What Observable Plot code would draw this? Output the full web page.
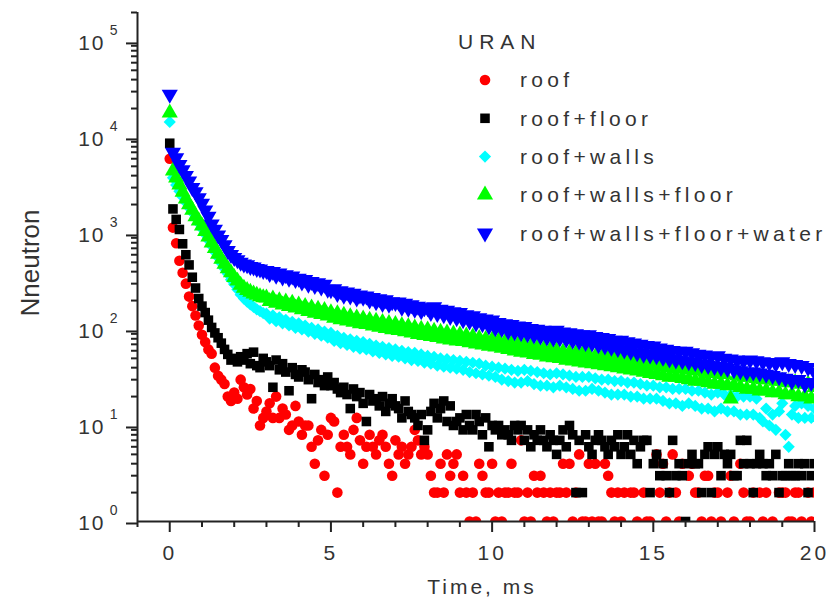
<!DOCTYPE html>
<html><head><meta charset="utf-8">
<script src="https://cdn.jsdelivr.net/npm/d3@7"></script>
<script src="https://cdn.jsdelivr.net/npm/@observablehq/plot@0.6"></script>
<style>
body{margin:0;background:#fff;}
#chart{position:relative;width:839px;height:602px;}
</style></head><body><div id="chart"></div>
<script>
// Time grid: 0 … 20 ms in 0.1 ms bins
const times = d3.range(201).map(i => i / 10);

const roof = [
6000,1150,790,520,390,300,220,175,140,110,
88,74,62,56,40,33,30,27,20,18,
22,19,30,25,21,24,15,18,10,12,
14,17,12,20,12,15,13,9,10,16,
11,8,10,10,6,4,7,9,3,8,
12,11,2,6,8,6,5,9,12,7,
4,6,8,6,5,7,8,6,4,3,
7,5,6,4,5,6,9,7,5,6,
5,3,2,2,4,2,5,3,4,5,
2,3,2,1,2,1,4,3,2,2,
4,1,2,1,2,2,4,2,2,7,
1,2,1,3,2,3,2,1,2,1,
2,2,4,2,4,1,2,5,1,1,
4,1,4,1,1,4,3,2,1,2,
1,2,0,2,2,1,0,2,1,1,
0,5,2,4,1,2,5,2,1,4,
0,3,4,2,2,1,3,3,1,2,
2,1,0,2,3,1,0,4,2,1,
1,2,0,2,1,2,0,1,0,2,
2,2,1,1,2,2,1,0,2,1,
2];

const roofFloor = [
8700,1800,1400,1100,780,600,470,350,270,210,
175,150,125,105,92,82,72,62,55,48,
50,46,52,48,56,44,58,42,40,50,
46,42,25,48,38,44,36,23,40,34,
32,38,36,30,19,34,28,30,26,32,
26,28,24,22,25,21,15,24,20,22,
17,11,21,18,19,16,20,14,17,19,
16,15,12,18,14,13,12,10,13,7,
9,14,17,12,15,18,11,16,10,11,
12,9,13,10,9,13,11,8,12,6,
10,9,10,8,9,8,7,10,9,10,
7,9,6,8,7,9,7,6,8,7,
5,7,9,6,10,8,2,7,2,8,
6,5,7,8,7,6,5,7,6,8,
5,6,8,5,7,4,6,7,7,2,
4,5,3,4,3,2,7,3,4,3,
1,4,5,4,4,2,5,6,2,5,
6,3,5,4,5,3,3,7,4,7,
4,2,4,5,4,3,4,3,5,2,
3,3,4,3,3,4,3,4,2,3,
4];

const roofWalls = [
14500,3800,3200,2750,2400,2100,1850,1650,1450,1280,
1120,980,850,740,640,560,490,430,380,330,
295,260,230,210,195,182,172,162,155,148,
146,130,140,122,134,116,126,110,120,104,
116,100,110,95,104,90,100,86,95,82,
92,76,86,72,82,69,79,66,76,63,
74,62,71,59,68,57,66,55,64,53,
62,52,60,50,58,48,57,47,55,45,
53,44,52,42,50,41,49,40,48,39,
47,38,46,36,45,35,44,34,42,33,
41,32,40,30,39,29,38,28,37,28,
38,29,37,27,36,26,35,26,34,25,
35,26,34,25,33,24,32,23,32,23,
32,24,31,23,30,22,30,21,29,21,
29,21,28,20,28,20,27,19,26,19,
26,19,25,18,25,17,24,17,24,16,
24,17,23,16,23,15,22,15,21,14,
22,15,21,14,21,14,20,13,20,13,
20,13,19,12,11,15,10,13,9,14,
17,8,6,13,16,12,17,12,16,12,
15];

const roofWallsFloor = [
18000,4500,3800,3200,2700,2300,2000,1750,1500,1350,
1200,1050,920,800,700,610,540,480,430,390,
350,320,290,270,255,245,235,228,220,215,
214,196,208,188,200,180,194,174,188,168,
180,161,174,154,168,148,163,144,158,139,
150,131,146,127,141,123,136,119,132,115,
129,113,125,109,122,106,119,103,116,100,
113,98,110,95,107,92,104,89,101,87,
99,85,96,83,94,80,92,78,90,76,
88,75,86,73,84,71,81,69,79,67,
78,66,76,64,74,62,71,60,69,58,
68,57,66,55,64,54,62,52,61,51,
60,50,58,48,57,47,56,46,55,45,
54,44,52,43,51,42,50,41,49,40,
48,39,47,38,46,37,45,36,44,35,
43,34,42,33,41,32,40,32,39,31,
39,30,38,29,37,29,36,28,35,27,
35,27,34,26,19,26,33,25,32,24,
32,24,31,23,30,23,30,22,29,22,
29,21,28,21,28,20,27,20,27,19,
25];

const roofWallsFloorWater = [
28000,7000,6100,5200,4600,4000,3500,3000,2700,2350,
2050,1750,1500,1250,1100,960,860,760,660,600,
560,530,500,480,470,450,445,430,425,410,
410,380,400,365,385,350,370,340,360,330,
340,310,330,295,315,285,305,275,295,262,
258,265,236,252,226,244,222,238,212,228,
216,222,202,214,194,208,186,203,182,194,
190,192,170,187,166,180,162,174,156,168,
168,150,172,146,162,142,158,136,152,132,
150,126,142,122,138,116,132,114,128,108,
125,104,118,102,114,96,112,94,108,92,
107,90,102,87,100,85,98,83,96,81,
98,81,94,79,92,77,90,75,88,73,
88,72,84,69,82,67,80,65,77,63,
77,61,74,59,72,57,70,55,68,54,
67,53,64,51,62,49,60,48,59,47,
59,46,57,45,55,43,54,42,52,41,
53,40,50,39,49,38,48,37,47,36,
48,36,47,35,46,34,45,33,44,32,
46,31,44,29,43,30,42,27,40,28,
36];

const legendTitle = "URAN";
const xMajorTicks = [0, 5, 10, 15, 20];
const xMinorTicks = [-1,1,2,3,4,6,7,8,9,11,12,13,14,16,17,18,19];
const yMajorTicks = [1, 10, 100, 1000, 10000, 100000];
const yMinorTicks = [];
for (const d of [1, 10, 100, 1000, 10000, 100000])
  for (let k = 2; k <= 9; k++) if (k * d <= 200000) yMinorTicks.push(k * d);

const sqrt3 = Math.sqrt(3);
const triangleDown = {
  draw(context, size) {
    const y = Math.sqrt(size / (sqrt3 * 3));
    context.moveTo(0, y * 2);
    context.lineTo(-sqrt3 * y, -y);
    context.lineTo(sqrt3 * y, -y);
    context.closePath();
  }
};

const series = [
  {name: "roof", values: roof, color: "#ff0000", symbol: "circle", r: 5.3, d3sym: d3.symbolCircle},
  {name: "roof+floor", values: roofFloor, color: "#000000", symbol: "square", r: 5.4, d3sym: d3.symbolSquare},
  {name: "roof+walls", values: roofWalls, color: "#00ffff", symbol: "diamond2", r: 5.5, d3sym: d3.symbolDiamond2},
  {name: "roof+walls+floor", values: roofWallsFloor, color: "#00ff00", symbol: "triangle", r: 6, d3sym: d3.symbolTriangle},
  {name: "roof+walls+floor+water", values: roofWallsFloorWater, color: "#0000ff", symbol: triangleDown, r: 6, d3sym: triangleDown}
];

const font = "'Liberation Sans', Arial, sans-serif";
const axisColor = "#222";

const marks = [];
for (const s of series) {
  const data = times.map((t, i) => ({t, v: s.values[i]})).filter(d => d.v > 0);
  marks.push(Plot.dot(data, {x: "t", y: "v", symbol: s.symbol, r: s.r, fill: s.color, stroke: "none", clip: true}));
}
marks.push(
  Plot.axisY({ticks: yMinorTicks, anchor: "left", tickSize: 6, tickFormat: () => "", label: null, stroke: axisColor, strokeWidth: 2}),
  Plot.axisY({ticks: yMajorTicks, anchor: "left", tickSize: 11, tickPadding: 21, tickFormat: () => "10", fontSize: 21, dy: 2, label: null, stroke: axisColor, strokeWidth: 2, fill: "#333"}),
  Plot.axisY({ticks: yMajorTicks, anchor: "left", tickSize: 0, tickPadding: 20, tickFormat: d => String(Math.round(Math.log10(d))), fontSize: 14, dy: -11, label: null, fill: "#333"}),
  Plot.axisX({ticks: xMinorTicks, anchor: "bottom", tickSize: 6, tickFormat: () => "", label: null, stroke: axisColor, strokeWidth: 2}),
  Plot.axisX({ticks: xMajorTicks, anchor: "bottom", tickSize: 11, tickPadding: 13, fontSize: 21, label: null, stroke: axisColor, strokeWidth: 2, fill: "#333"}),
  Plot.ruleX([-1], {stroke: axisColor, strokeWidth: 2}),
  Plot.ruleY([1], {stroke: axisColor, strokeWidth: 2}),
  Plot.text(["Nneutron"], {text: d => d, frameAnchor: "left", textAnchor: "middle", dx: -107, dy: -4, rotate: -90, fontSize: 26, fill: "#333"}),
  Plot.text(["Time, ms"], {text: d => d, frameAnchor: "bottom", textAnchor: "middle", dx: 6, dy: 72, fontSize: 21, fill: "#333"})
);

const svg = Plot.plot({
  width: 839, height: 602,
  marginLeft: 137, marginRight: 25, marginTop: 12, marginBottom: 81,
  style: {fontFamily: font, background: "#fff", color: "#333"},
  x: {domain: [-1, 20]},
  y: {type: "log", domain: [1, 200000]},
  marks
});

const root = d3.select(svg);
root.selectAll('g[aria-label="y-axis tick label"] text').filter(function(){return this.textContent === "10";}).attr("letter-spacing", "2px");
root.selectAll('g[aria-label="x-axis tick label"] text').attr("letter-spacing", "3px");
root.selectAll('g[aria-label="text"] text').filter(function(){return this.textContent === "Time, ms";}).attr("letter-spacing", "3px");

// legend
const lg = root.append("g").attr("font-family", font).attr("fill", "#333").attr("text-anchor", "start");
lg.append("text").attr("x", 458).attr("y", 42).attr("dy", "0.35em").attr("font-size", 21).attr("letter-spacing", "6px").text(legendTitle);
series.forEach((s, i) => {
  const cy = 80 + i * 38.3;
  lg.append("path").attr("transform", `translate(485,${cy})`)
    .attr("d", d3.symbol(s.d3sym, Math.PI * s.r * s.r)()).attr("fill", s.color);
  lg.append("text").attr("x", 520).attr("y", cy).attr("dy", "0.35em").attr("font-size", 21).attr("letter-spacing", "4.3px").text(s.name);
});

document.getElementById("chart").appendChild(svg);
</script>
</body></html>
